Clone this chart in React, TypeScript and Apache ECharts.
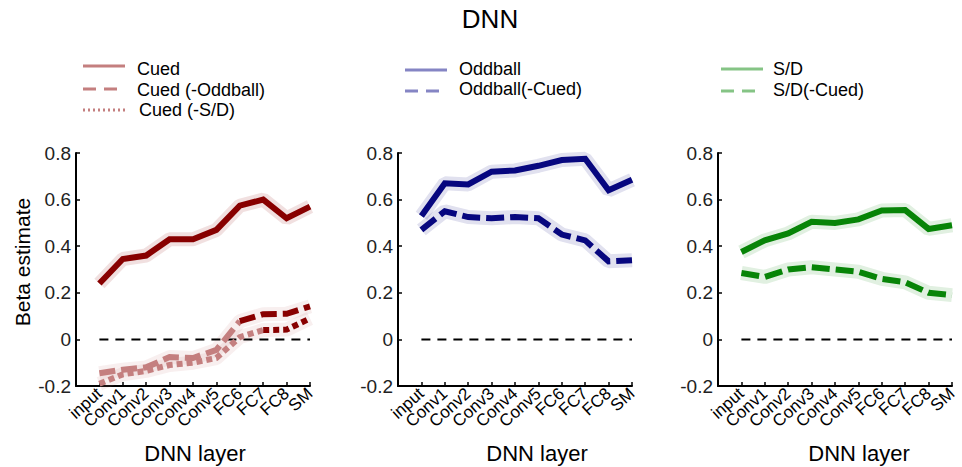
import React, { useEffect, useRef } from 'react';
import * as echarts from 'echarts';

const layers = ['input', 'Conv1', 'Conv2', 'Conv3', 'Conv4', 'Conv5', 'FC6', 'FC7', 'FC8', 'SM'];
const yTicks = [-0.2, 0, 0.2, 0.4, 0.6, 0.8];

const cued = [0.24, 0.345, 0.36, 0.43, 0.43, 0.47, 0.574, 0.6, 0.52, 0.57];
const cuedMinusOddball = [-0.145, -0.13, -0.12, -0.076, -0.08, -0.045, 0.078, 0.108, 0.11, 0.142];
const cuedMinusSD = [-0.19, -0.15, -0.135, -0.11, -0.1, -0.08, 0.01, 0.04, 0.042, 0.09];
const cuedMinusOddballSigFrom = 6;
const cuedMinusSDSigFrom = 7;

const oddball = [0.53, 0.67, 0.665, 0.72, 0.725, 0.745, 0.77, 0.775, 0.64, 0.685];
const oddballMinusCued = [0.47, 0.55, 0.525, 0.52, 0.525, 0.52, 0.45, 0.425, 0.335, 0.34];

const sd = [0.375, 0.425, 0.455, 0.505, 0.5, 0.515, 0.553, 0.555, 0.474, 0.49];
const sdMinusCued = [0.285, 0.268, 0.3, 0.31, 0.3, 0.29, 0.26, 0.245, 0.2, 0.19];

const zeroLine = [0, 0];

const FONT = 'Liberation Sans, Arial, Helvetica, sans-serif';
const RED = '#880000';
const RED_LIGHT = '#c47f7f';
const BLUE = '#07077f';
const BLUE_LIGHT = '#8585c4';
const GREEN = '#078407';
const GREEN_LIGHT = '#85c485';

// x position i+1 on a category axis whose first (index 0) slot is an empty origin slot
const pts = (arr: number[], from = 0, to = arr.length - 1) =>
  arr.map((v, i) => [i + 1, v]).filter((_, i) => i >= from && i <= to);

const band = (arr: number[], color: string, idx: number) => ({
  type: 'line',
  xAxisIndex: idx,
  yAxisIndex: idx,
  data: pts(arr),
  symbol: 'none',
  silent: true,
  z: 1,
  lineStyle: { color, width: 14, opacity: 0.12 },
});

const line = (data: number[][], color: string, idx: number, dash: any, name: string) => ({
  type: 'line',
  name,
  xAxisIndex: idx,
  yAxisIndex: idx,
  data,
  symbol: 'none',
  z: 3,
  lineStyle: { color, width: 6, type: dash, cap: 'butt', join: 'miter' },
});

const zero = (idx: number) => ({
  type: 'line',
  xAxisIndex: idx,
  yAxisIndex: idx,
  data: [
    [1, zeroLine[0]],
    [layers.length, zeroLine[1]],
  ],
  symbol: 'none',
  silent: true,
  z: 2,
  lineStyle: { color: '#000', width: 2, type: [9, 7] },
});

const gridLefts = [76, 398, 718];

export default function App() {
  const ref = useRef<HTMLDivElement>(null);
  useEffect(() => {
    if (!ref.current) return;
    const chart = echarts.init(ref.current, undefined, { renderer: 'svg' });

    const grids = gridLefts.map((l) => ({ left: l, width: 234, top: 153, height: 233, containLabel: false }));
    const xAxes = gridLefts.map((_, i) => ({
      type: 'category',
      gridIndex: i,
      data: ['', ...layers],
      boundaryGap: false,
      splitLine: { show: false },
      axisLine: { show: true, onZero: false, lineStyle: { color: '#000', width: 2 } },
      axisTick: { show: true, inside: true, length: 4, interval: 0, lineStyle: { color: '#000', width: 1.5 } },
      axisLabel: {
        interval: 0,
        rotate: 42,
        fontSize: 17,
        fontFamily: FONT,
        color: '#000',
        margin: 5,
      },
    }));
    const yAxes = gridLefts.map((_, i) => ({
      type: 'value',
      gridIndex: i,
      min: yTicks[0],
      max: yTicks[yTicks.length - 1],
      interval: 0.2,
      splitLine: { show: false },
      axisLine: { show: true, onZero: false, lineStyle: { color: '#000', width: 2 } },
      axisTick: { show: true, inside: true, length: 4, lineStyle: { color: '#000', width: 1.5 } },
      axisLabel: {
        fontSize: 19,
        fontFamily: FONT,
        color: '#222',
        margin: 5,
        formatter: (v: number) => (Math.abs(v) < 1e-9 ? '0' : v.toFixed(1)),
      },
    }));

    const series: any[] = [
      // left
      band(cued, RED, 0),
      band(cuedMinusOddball, RED_LIGHT, 0),
      band(cuedMinusSD, RED_LIGHT, 0),
      zero(0),
      line(pts(cued), RED, 0, 'solid', 'Cued'),
      line(pts(cuedMinusOddball, 0, cuedMinusOddballSigFrom), RED_LIGHT, 0, [16, 6], 'Cued (-Oddball)'),
      line(pts(cuedMinusOddball, cuedMinusOddballSigFrom), RED, 0, [16, 6], 'Cued (-Oddball) sig'),
      line(pts(cuedMinusSD, 0, cuedMinusSDSigFrom), RED_LIGHT, 0, [6, 4], 'Cued (-S/D)'),
      line(pts(cuedMinusSD, cuedMinusSDSigFrom), RED, 0, [6, 4], 'Cued (-S/D) sig'),
      // middle
      band(oddball, BLUE, 1),
      band(oddballMinusCued, BLUE, 1),
      zero(1),
      line(pts(oddball), BLUE, 1, 'solid', 'Oddball'),
      line(pts(oddballMinusCued), BLUE, 1, [18, 6], 'Oddball(-Cued)'),
      // right
      band(sd, GREEN, 2),
      band(sdMinusCued, GREEN, 2),
      zero(2),
      line(pts(sd), GREEN, 2, 'solid', 'S/D'),
      line(pts(sdMinusCued), GREEN, 2, [18, 6], 'S/D(-Cued)'),
    ];

    const legLine = (x1: number, y: number, color: string, dash: any) => ({
      type: 'line',
      shape: { x1, y1: y, x2: x1 + 42, y2: y },
      style: { stroke: color, lineWidth: 3, lineDash: dash },
    });
    const txt = (x: number, y: number, text: string, size = 18, align = 'left') => ({
      type: 'text',
      x,
      y,
      style: { text, fontSize: size, fontFamily: FONT, fill: '#000', align, verticalAlign: 'middle' },
    });

    const graphic: any[] = [
      txt(490, 19, 'DNN', 26, 'center'),
      // left legend
      legLine(83, 66, RED_LIGHT, null),
      txt(137, 69, 'Cued'),
      legLine(83, 89, RED_LIGHT, [13, 8]),
      txt(137, 90, 'Cued (-Oddball)'),
      legLine(83, 110, RED_LIGHT, [2, 3]),
      txt(139, 110, 'Cued (-S/D)'),
      // middle legend
      legLine(405, 70, BLUE_LIGHT, null),
      txt(459, 69, 'Oddball'),
      legLine(405, 91, BLUE_LIGHT, [13, 8]),
      txt(459, 89, 'Oddball(-Cued)'),
      // right legend
      legLine(721, 69, GREEN_LIGHT, null),
      txt(773, 69, 'S/D'),
      legLine(721, 91, GREEN_LIGHT, [13, 8]),
      txt(773, 90, 'S/D(-Cued)'),
      // axis names
      txt(195, 453, 'DNN layer', 22, 'center'),
      txt(537, 453, 'DNN layer', 22, 'center'),
      txt(859, 453, 'DNN layer', 22, 'center'),
      {
        type: 'text',
        x: 22,
        y: 262,
        rotation: Math.PI / 2,
        style: { text: 'Beta estimate', fontSize: 21, fontFamily: FONT, fill: '#000', align: 'center', verticalAlign: 'middle' },
      },
    ];

    chart.setOption({
      animation: false,
      backgroundColor: '#fff',
      grid: grids,
      xAxis: xAxes,
      yAxis: yAxes,
      series,
      graphic,
    });
    return () => chart.dispose();
  }, []);
  return <div ref={ref} style={{ width: 962, height: 467, position: 'absolute', left: 0, top: 0 }} />;
}
